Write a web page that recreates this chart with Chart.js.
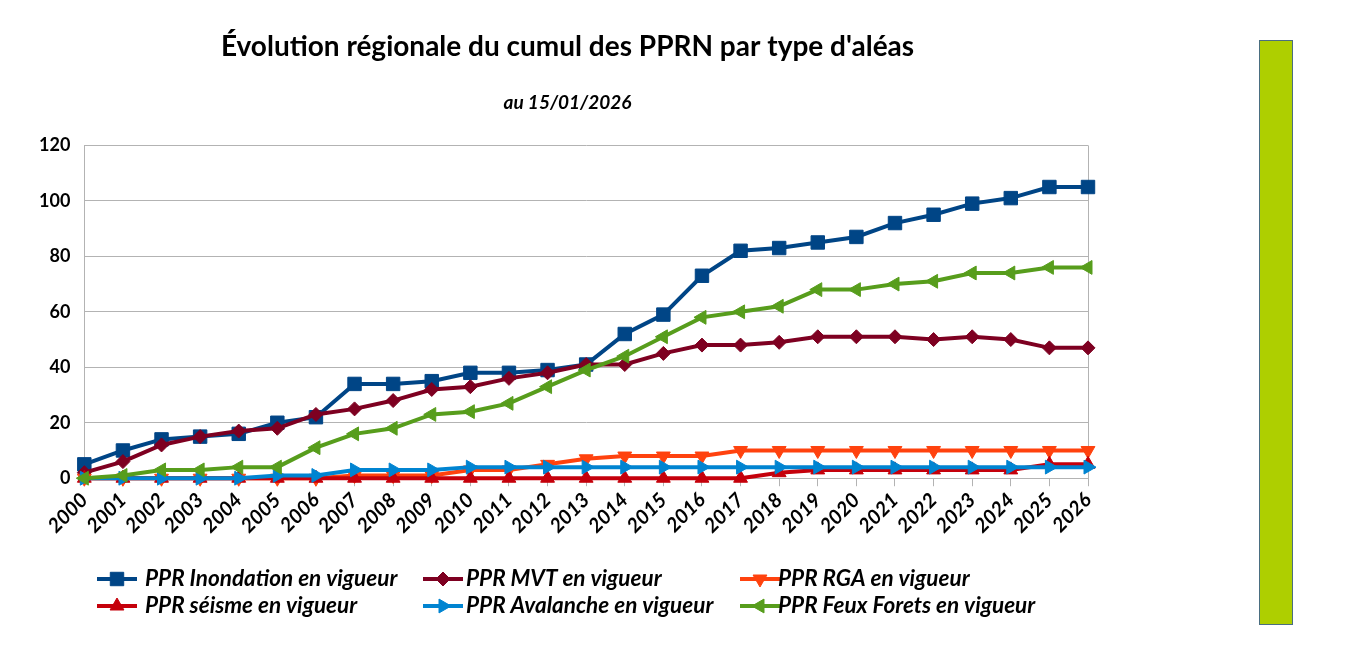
<!DOCTYPE html>
<html><head><meta charset="utf-8">
<script src="https://cdn.jsdelivr.net/npm/chart.js@4/dist/chart.umd.min.js"></script>
<style>
html,body{margin:0;padding:0;background:#fff;overflow:hidden;}
#wrap{position:absolute;left:0;top:0;width:1140px;height:663px;}
#bar{position:absolute;left:1259px;top:40px;width:32px;height:583px;background:#aecf00;border:1px solid #4a6e80;}
</style></head><body>
<div id="wrap"><canvas id="c"></canvas></div>
<div id="bar"></div>
<script>
const TITLE = "Évolution régionale du cumul des PPRN par type d'aléas";
const SUBTITLE = "au 15/01/2026";
const years = ['2000','2001','2002','2003','2004','2005','2006','2007','2008','2009','2010','2011','2012','2013','2014','2015','2016','2017','2018','2019','2020','2021','2022','2023','2024','2025','2026'];
const inondation = [5,10,14,15,16,20,22,34,34,35,38,38,39,41,52,59,73,82,83,85,87,92,95,99,101,105,105];
const mvt =        [2,6,12,15,17,18,23,25,28,32,33,36,38,41,41,45,48,48,49,51,51,51,50,51,50,47,47];
const rga =        [0,0,0,0,0,0,0,1,1,1,3,3,5,7,8,8,8,10,10,10,10,10,10,10,10,10,10];
const seisme =     [0,0,0,0,0,0,0,0,0,0,0,0,0,0,0,0,0,0,2,3,3,3,3,3,3,5,5];
const avalanche =  [0,0,0,0,0,1,1,3,3,3,4,4,4,4,4,4,4,4,4,4,4,4,4,4,4,4,4];
const feuxForets = [0,1,3,3,4,4,11,16,18,23,24,27,33,39,44,51,58,60,62,68,68,70,71,74,74,76,76];
const yTicks = [0,20,40,60,80,100,120];
const seriesLabels = ['PPR Inondation en vigueur','PPR MVT en vigueur','PPR RGA en vigueur','PPR séisme en vigueur','PPR Avalanche en vigueur','PPR Feux Forets en vigueur'];

const FONT = 'Lato, "Open Sans", sans-serif';
const GRID = '#b3b3b3';

function mk(label, data, color, style, rot, radius, order) {
  return {label, data, borderColor: color, backgroundColor: color, borderWidth: 4,
    pointStyle: style, pointRotation: rot, pointRadius: radius, pointHoverRadius: radius,
    pointBorderWidth: 1, pointBorderColor: color, pointBackgroundColor: color,
    tension: 0, fill: false, order, clip: false, yAxisID: 'y'};
}

const datasets = [
  mk(seriesLabels[0], inondation, '#004586', 'rect', 0, 9.5, 5),
  mk(seriesLabels[1], mvt, '#7e0021', 'rectRot', 0, 7, 4),
  mk(seriesLabels[2], rga, '#ff420e', 'triangle', 180, 8, 3),
  mk(seriesLabels[3], seisme, '#c5000b', 'triangle', 0, 8, 2),
  mk(seriesLabels[4], avalanche, '#0084d1', 'triangle', 90, 8, 1),
  mk(seriesLabels[5], feuxForets, '#579d1c', 'triangle', 270, 8, 0)
];

const LEG_LINE_X = [97, 423, 740];
const LEG_LINE_LEN = 40;
const LEG_TEXT_X = [145, 466, 778];
const LEG_ROW_Y = [579, 606];

function drawMarker(ctx, ds, x, y) {
  if (Chart.helpers && Chart.helpers.drawPoint) {
    Chart.helpers.drawPoint(ctx, {pointStyle: ds.pointStyle, radius: ds.pointRadius, rotation: ds.pointRotation, borderWidth: 1}, x, y);
  }
}

const gridLegend = {
  id: 'gridLegend',
  afterDraw(chart) {
    const ctx = chart.ctx;
    ctx.save();
    chart.data.datasets.forEach((ds, i) => {
      const col = i % 3, row = Math.floor(i / 3);
      const x0 = LEG_LINE_X[col], y = LEG_ROW_Y[row];
      ctx.strokeStyle = ds.borderColor; ctx.lineWidth = 4; ctx.lineCap = 'butt';
      ctx.beginPath(); ctx.moveTo(x0, y); ctx.lineTo(x0 + LEG_LINE_LEN, y); ctx.stroke();
      ctx.fillStyle = ds.backgroundColor; ctx.lineWidth = 1;
      drawMarker(ctx, ds, x0 + LEG_LINE_LEN / 2, y);
      ctx.fillStyle = '#000';
      ctx.font = 'italic bold 22.5px ' + FONT;
      ctx.textBaseline = 'middle'; ctx.textAlign = 'left';
      ctx.fillText(ds.label, LEG_TEXT_X[col], y);
    });
    ctx.restore();
  }
};

new Chart(document.getElementById('c'), {
  type: 'line',
  data: {labels: years, datasets},
  plugins: [gridLegend],
  options: {
    responsive: true, maintainAspectRatio: false, animation: false,
    layout: {padding: {left: 25, right: 30, top: 0, bottom: 123}},
    plugins: {
      legend: {display: false},
      tooltip: {enabled: false},
      title: {display: true, text: TITLE, color: '#000', font: {family: FONT, size: 28, weight: 'bold'}, padding: {top: 30, bottom: 28}},
      subtitle: {display: true, text: SUBTITLE, color: '#000', font: {family: FONT, size: 19, weight: 'bold', style: 'italic'}, padding: {top: 0, bottom: 31}}
    },
    scales: {
      x: {
        type: 'category', offset: false,
        grid: {
          drawOnChartArea: true, drawTicks: true, tickLength: 8, tickColor: GRID,
          color: (c) => (c.index === years.length - 1 ? GRID : 'rgba(0,0,0,0)')
        },
        border: {color: GRID, width: 1},
        ticks: {autoSkip: false, maxRotation: 45, minRotation: 45, color: '#000', padding: 2,
          font: {family: FONT, size: 20, weight: 'bold', style: 'italic'}}
      },
      y: {
        min: 0, max: 120,
        afterBuildTicks: (axis) => { axis.ticks = yTicks.map(v => ({value: v})); },
        grid: {color: GRID, drawTicks: false},
        border: {color: GRID, width: 1},
        ticks: {color: '#000', padding: 14, font: {family: FONT, size: 18, weight: 'bold'}}
      },
      y2: {
        position: 'right', min: 0, max: 120,
        ticks: {display: false},
        grid: {drawOnChartArea: false, drawTicks: false},
        border: {display: false},
        afterFit: (axis) => { axis.width = 22; }
      }
    }
  }
});
</script>
</body></html>
